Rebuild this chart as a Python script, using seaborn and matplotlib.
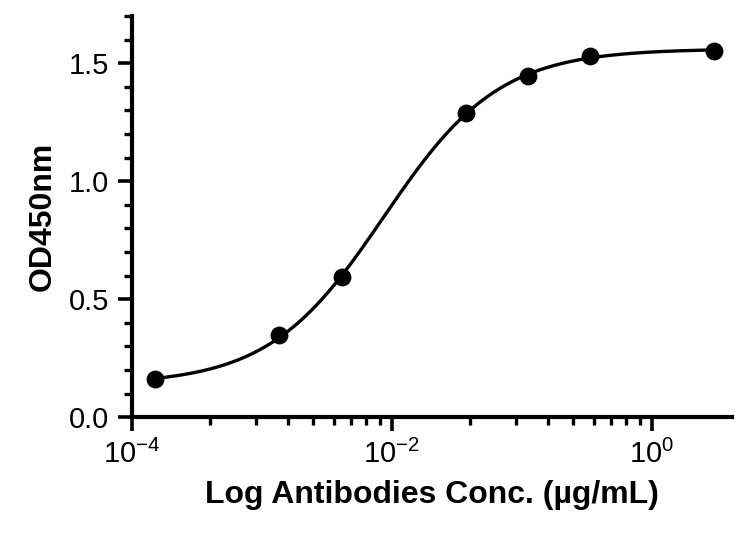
import seaborn as sns
import matplotlib.pyplot as plt
import matplotlib.ticker as mticker
import pandas as pd
import numpy as np

# values
conc = [0.000152, 0.00137, 0.00412, 0.0373, 0.111, 0.333, 3.0]
od450 = [0.161, 0.347, 0.593, 1.289, 1.448, 1.530, 1.551]
xtick_vals = [1e-4, 1e-2, 1e0]
xtick_labels = ["$10^{-4}$", "$10^{-2}$", "$10^{0}$"]

df = pd.DataFrame({"conc": conc, "od": od450})

# 4-parameter logistic fit: grid over logEC50 / hill, linear lstsq for bottom / top
logx = np.log10(df["conc"].values)
y = df["od"].values
best = None
for lec in np.linspace(-4, 0, 401):
    for h in np.linspace(0.3, 3, 271):
        g = 1 / (1 + 10 ** ((lec - logx) * h))
        A = np.column_stack([1 - g, g])
        coef, *_ = np.linalg.lstsq(A, y, rcond=None)
        err = np.sum((A @ coef - y) ** 2)
        if best is None or err < best[0]:
            best = (err, lec, h, coef)
_, lec, h, (bottom, top) = best

fit_x = np.logspace(np.log10(conc[0]), np.log10(conc[-1]), 300)
fit_df = pd.DataFrame({
    "conc": fit_x,
    "od": bottom + (top - bottom) / (1 + 10 ** ((lec - np.log10(fit_x)) * h)),
})

sns.set_style("ticks")
plt.rcParams["font.family"] = ["Liberation Sans", "DejaVu Sans"]
plt.rcParams["mathtext.default"] = "regular"
for k in ["text.color", "axes.labelcolor", "xtick.color", "ytick.color", "axes.edgecolor"]:
    plt.rcParams[k] = "black"

fig = plt.figure(figsize=(7.48, 5.35), dpi=100)
ax = fig.add_axes([0.176, 0.22, 0.803, 0.75])

sns.lineplot(data=fit_df, x="conc", y="od", color="black", linewidth=2.4, ax=ax)
sns.scatterplot(data=df, x="conc", y="od", color="black", s=165, edgecolor="black",
                linewidth=0, zorder=3, ax=ax, clip_on=False)

ax.set_xscale("log")
ax.set_xlim(1e-4, 10 ** 0.62)
ax.set_ylim(0, 1.7)

ax.set_xticks(xtick_vals)
ax.set_xticklabels(xtick_labels)
minor = [d * k ** 2 for d in (1e-4, 1e-2) for k in range(2, 10)]
ax.xaxis.set_minor_locator(mticker.FixedLocator(minor))
ax.xaxis.set_minor_formatter(mticker.NullFormatter())

ax.set_yticks([0.0, 0.5, 1.0, 1.5])
ax.set_yticklabels(["0.0", "0.5", "1.0", "1.5"])
ax.yaxis.set_minor_locator(mticker.MultipleLocator(0.1))

for s in ["top", "right"]:
    ax.spines[s].set_visible(False)
for s in ["left", "bottom"]:
    ax.spines[s].set_linewidth(3.0)
    ax.spines[s].set_color("black")

ax.tick_params(which="major", length=10, width=2.6, labelsize=21, color="black",
               labelcolor="black", pad=6)
ax.tick_params(which="minor", length=5.5, width=2.4, color="black")

ax.set_xlabel("Log Antibodies Conc. (µg/mL)", fontsize=23, fontweight="bold", labelpad=8)
ax.set_ylabel("OD450nm", fontsize=23, fontweight="bold", labelpad=8)

plt.savefig("out.png", dpi=100)
plt.close()
